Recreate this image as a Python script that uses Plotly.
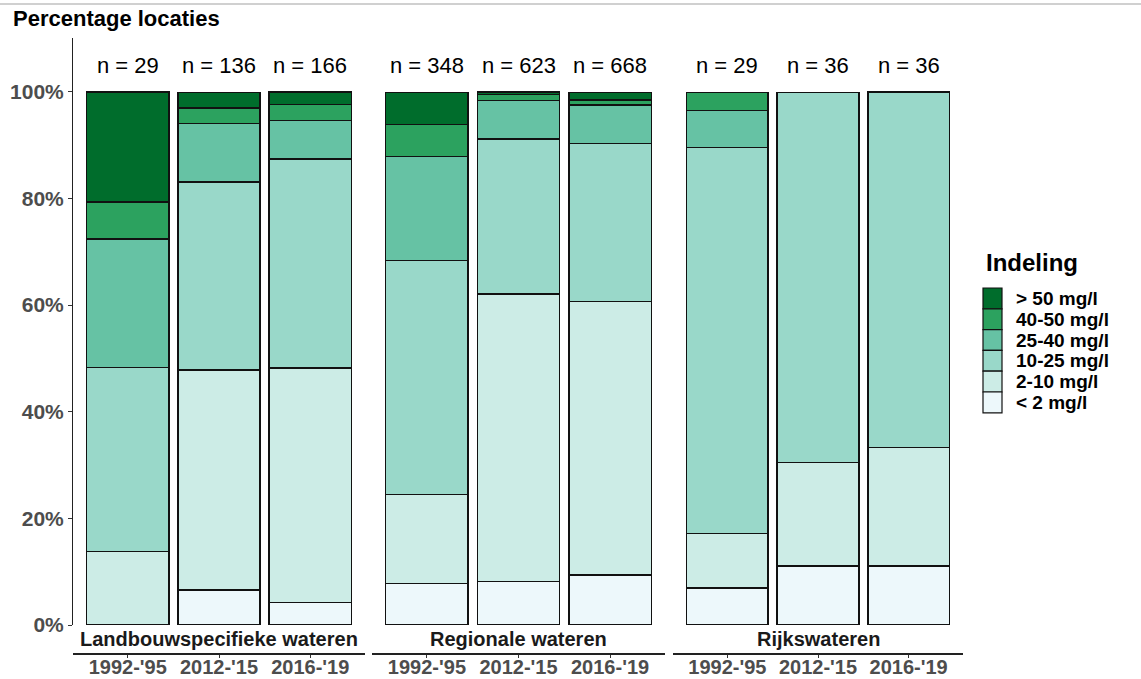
import plotly.graph_objects as go

# ---- data ----
groups = ["Landbouwspecifieke wateren", "Regionale wateren", "Rijkswateren"]
periods = ["1992-'95", "2012-'15", "2016-'19"]
n_labels = [["n = 29", "n = 136", "n = 166"],
            ["n = 348", "n = 623", "n = 668"],
            ["n = 29", "n = 36", "n = 36"]]
categories = ["< 2 mg/l", "2-10 mg/l", "10-25 mg/l", "25-40 mg/l", "40-50 mg/l", "> 50 mg/l"]
colors = ["#edf8fb", "#ccece6", "#99d8c9", "#66c2a4", "#2ca25f", "#006d2c"]
legend_title = "Indeling"
y_title = "Percentage locaties"
y_ticks = [0, 20, 40, 60, 80, 100]
y_ticktext = ["0%", "20%", "40%", "60%", "80%", "100%"]

# percentages per group, per category (bottom to top), per period
landbouw = {
    "< 2 mg/l":   [0.0, 6.6, 4.2],
    "2-10 mg/l":  [13.8, 41.2, 44.0],
    "10-25 mg/l": [34.5, 35.3, 39.2],
    "25-40 mg/l": [24.1, 11.0, 7.2],
    "40-50 mg/l": [6.9, 2.9, 3.0],
    "> 50 mg/l":  [20.7, 2.9, 2.4],
}
regionaal = {
    "< 2 mg/l":   [7.8, 8.2, 9.4],
    "2-10 mg/l":  [16.7, 53.9, 51.3],
    "10-25 mg/l": [43.9, 29.1, 29.6],
    "25-40 mg/l": [19.5, 7.2, 7.2],
    "40-50 mg/l": [6.0, 1.1, 1.0],
    "> 50 mg/l":  [6.0, 0.5, 1.4],
}
rijks = {
    "< 2 mg/l":   [6.9, 11.1, 11.1],
    "2-10 mg/l":  [10.3, 19.4, 22.2],
    "10-25 mg/l": [72.4, 69.4, 66.7],
    "25-40 mg/l": [6.9, 0.0, 0.0],
    "40-50 mg/l": [3.4, 0.0, 0.0],
    "> 50 mg/l":  [0.0, 0.0, 0.0],
}
group_data = [landbouw, regionaal, rijks]

# ---- layout geometry (pixels) ----
W, H = 1141, 679
def px(x): return x / W
def py(y): return 1 - y / H

panel_px = [(73, 365), (372, 665), (673, 963)]
y_dom = [py(625), py(38)]
axis_pos = py(654)

FONT = "Liberation Sans, Arial, sans-serif"
fig = go.Figure()

for g, data in enumerate(group_data):
    xa = "x" if g == 0 else f"x{g+1}"
    for c, cat in enumerate(categories):
        vals = data[cat]
        fig.add_trace(go.Bar(
            x=periods, y=vals, name=cat, xaxis=xa, yaxis="y",
            marker=dict(color=colors[c], line=dict(color="#111111", width=1.5)),
            legendgroup=cat, showlegend=False,
            hovertemplate=f"{groups[g]}<br>%{{x}}<br>{cat}: %{{y:.1f}}%<extra></extra>",
        ))
    # n labels
    for i, p in enumerate(periods):
        fig.add_annotation(x=p, y=105, xref=xa, yref="y", text=n_labels[g][i],
                           showarrow=False, font=dict(family=FONT, size=22, color="#000000"),
                           yanchor="middle")
    # facet strip label
    x0, x1 = panel_px[g]
    fig.add_annotation(x=px((x0 + x1) / 2), y=py(639), xref="paper", yref="paper",
                       text=f"<b>{groups[g]}</b>", showarrow=False,
                       font=dict(family=FONT, size=20, color="#1a1a1a"),
                       xanchor="center", yanchor="middle")

xaxis_common = dict(
    type="category", range=[-0.6, 2.6], anchor="free", position=axis_pos,
    showline=True, linecolor="#222222", linewidth=1.5,
    ticks="outside", ticklen=3, tickcolor="#333333", tickwidth=1,
    ticklabelstandoff=-8,
    tickfont=dict(family=FONT, size=20, color="#4d4d4d", weight="bold"),
    showgrid=False, zeroline=False, fixedrange=True, automargin=False,
)
layout_axes = {}
for g in range(3):
    key = "xaxis" if g == 0 else f"xaxis{g+1}"
    d = dict(xaxis_common)
    d["domain"] = [px(panel_px[g][0]), px(panel_px[g][1])]
    layout_axes[key] = d

fig.update_layout(
    **layout_axes,
    yaxis=dict(
        domain=y_dom, range=[0, 110.1], anchor="x",
        tickvals=y_ticks, ticktext=y_ticktext,
        showline=True, linecolor="#222222", linewidth=1,
        ticks="outside", ticklen=4, tickcolor="#333333",
        tickfont=dict(family=FONT, size=21, color="#4d4d4d", weight="bold"),
        showgrid=False, zeroline=False, fixedrange=True, automargin=False,
    ),
    barmode="stack", bargap=0.1,
    width=W, height=H, autosize=False,
    margin=dict(l=0, r=0, t=0, b=0, autoexpand=False),
    paper_bgcolor="white", plot_bgcolor="white",
    font=dict(family=FONT),
    showlegend=False,
)

# legend (drawn as keys + labels, top category first)
fig.add_annotation(x=px(984), y=py(263), xref="paper", yref="paper",
                   text=f"<b>{legend_title}</b>", showarrow=False,
                   font=dict(family=FONT, size=24, color="#000000"),
                   xanchor="left", yanchor="middle")
key_top, key_h = 288, 20.8
for k, c in enumerate(reversed(range(len(categories)))):
    t = key_top + k * key_h
    fig.add_shape(type="rect", xref="paper", yref="paper",
                  x0=px(983), x1=px(1002), y0=py(t + key_h), y1=py(t),
                  fillcolor=colors[c], line=dict(color="#111111", width=1.2))
    fig.add_annotation(x=px(1014), y=py(t + key_h / 2), xref="paper", yref="paper",
                       text=f"<b>{categories[c]}</b>", showarrow=False,
                       font=dict(family=FONT, size=19, color="#000000"),
                       xanchor="left", yanchor="middle")

# title
fig.add_annotation(x=px(11), y=py(18), xref="paper", yref="paper",
                   text=f"<b>{y_title}</b>", showarrow=False,
                   font=dict(family=FONT, size=22, color="#000000"),
                   xanchor="left", yanchor="middle")
# thin border line at top
fig.add_shape(type="line", x0=0, x1=1, y0=py(4), y1=py(4), xref="paper", yref="paper",
              line=dict(color="#c0c0c0", width=1.5))

fig.write_html("out.html",
               config={"responsive": False, "displayModeBar": False},
               post_script="document.body.style.margin='0';document.body.style.overflow='hidden';")
